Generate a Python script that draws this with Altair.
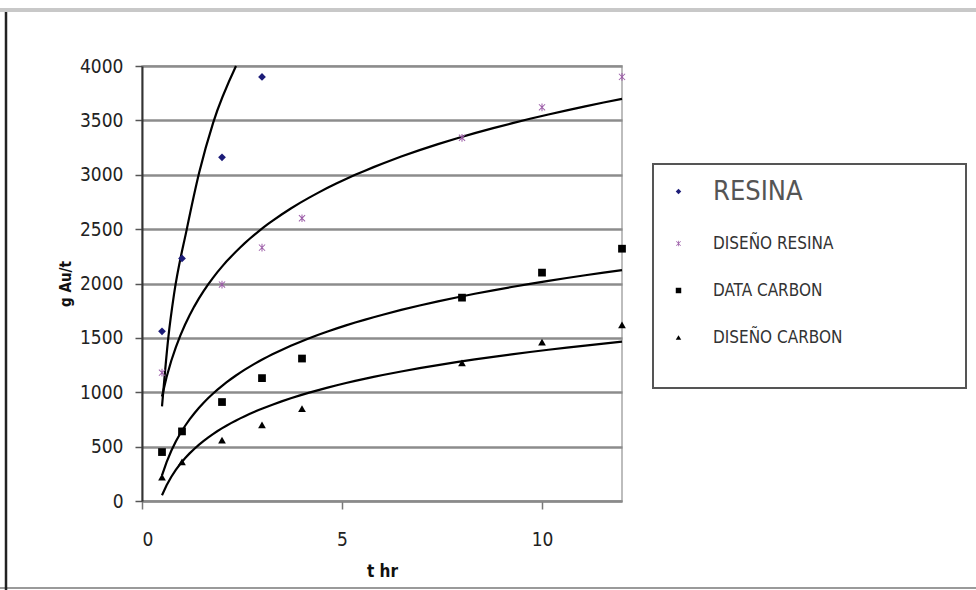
import altair as alt
import pandas as pd

# ---- data ----
series_names = ["RESINA", "DISEÑO RESINA", "DATA CARBON", "DISEÑO CARBON"]

t_resina = [0.5, 1, 2, 3]
v_resina = [1560, 2230, 3160, 3900]

t_diseno_resina = [0.5, 2, 3, 4, 8, 10, 12]
v_diseno_resina = [1180, 1990, 2330, 2600, 3340, 3620, 3900]

t_carbon = [0.5, 1, 2, 3, 4, 8, 10, 12]
v_data_carbon = [450, 640, 910, 1130, 1310, 1870, 2100, 2320]
v_diseno_carbon = [220, 360, 560, 700, 850, 1270, 1460, 1620]

# trend line of RESINA
t_resina_trend = [0.5, 0.66, 0.8, 1.12, 1.43, 1.78, 2.35]
v_resina_trend = [870, 1510, 1900, 2500, 3020, 3480, 4000]

x_ticks = [0, 5, 10]
y_ticks = [0, 500, 1000, 1500, 2000, 2500, 3000, 3500, 4000]

colors = ["#1c1c78", "#9a5aa6", "#000000", "#000000"]
asterisk = ("M-0.13,-1H0.13V1H-0.13Z "
            "M-0.715,-0.885L0.885,0.715L0.715,0.885L-0.885,-0.715Z "
            "M-0.885,0.715L0.715,-0.885L0.885,-0.715L-0.715,0.885Z")
shapes = ["diamond", asterisk, "square", "triangle-up"]

rows = []
for t, v in zip(t_resina, v_resina):
    rows.append({"t": t, "v": v, "series": series_names[0]})
for t, v in zip(t_diseno_resina, v_diseno_resina):
    rows.append({"t": t, "v": v, "series": series_names[1]})
for t, v in zip(t_carbon, v_data_carbon):
    rows.append({"t": t, "v": v, "series": series_names[2]})
for t, v in zip(t_carbon, v_diseno_carbon):
    rows.append({"t": t, "v": v, "series": series_names[3]})
df = pd.DataFrame(rows)

trend_df = pd.DataFrame({"t": t_resina_trend, "v": v_resina_trend})

FONT = "DejaVu Sans Condensed, Liberation Sans Narrow, sans-serif"

x_enc = alt.X("t:Q", scale=alt.Scale(domain=[0, 12], nice=False),
              axis=alt.Axis(values=x_ticks, title="t hr", grid=False, format="d",
                            tickSize=8, labelPadding=21, labelFontSize=19,
                            titleFontSize=17, titlePadding=14,
                            domainColor="#8a8a8a", domainWidth=2,
                            tickColor="#777777", tickWidth=1.5))
y_enc = alt.Y("v:Q", scale=alt.Scale(domain=[0, 4000], nice=False),
              axis=alt.Axis(values=y_ticks, title="g Au/t", grid=True, format="d",
                            gridColor="#8c8c8c", gridWidth=2.5,
                            tickSize=7, labelPadding=12, labelFontSize=19,
                            titleFontSize=15, titlePadding=6,
                            domainColor="#333333", domainWidth=2,
                            tickColor="#555555", tickWidth=1.5))

points = alt.Chart(df).mark_point(filled=True, opacity=1, size=60).encode(
    x=x_enc,
    y=y_enc,
    color=alt.Color("series:N",
                    scale=alt.Scale(domain=series_names, range=colors),
                    sort=series_names,
                    legend=alt.Legend(
                        title=None, orient="none", legendX=528, legendY=117,
                        symbolSize=30, rowPadding=29, labelOffset=26,
                        labelFont=FONT,
                        labelFontSize=alt.ExprRef("datum.label == 'RESINA' ? 27 : 17"),
                        labelColor=alt.ExprRef("datum.label == 'RESINA' ? '#555555' : '#333333'"),
                        padding=0)),
    shape=alt.Shape("series:N",
                    scale=alt.Scale(domain=series_names, range=shapes),
                    sort=series_names),
)

fits = alt.Chart(df).transform_filter(
    alt.datum.series != series_names[0]
).transform_regression(
    "t", "v", method="log", groupby=["series"]
).mark_line(color="black", strokeWidth=2.2).encode(
    x="t:Q", y="v:Q", detail="series:N"
)

resina_fit = alt.Chart(trend_df).mark_line(
    color="black", strokeWidth=2.2, interpolate="monotone"
).encode(x="t:Q", y="v:Q")

one = alt.Data(values=[{"k": 1}])
legend_box = alt.Chart(one).mark_rect(
    fill="white", stroke="#555555", strokeWidth=2
).encode(x=alt.value(511), x2=alt.value(824), y=alt.value(98), y2=alt.value(322))

top_line = alt.Chart(one).mark_rule(color="#c8c8c8", strokeWidth=4).encode(
    x=alt.value(-142), x2=alt.value(834), y=alt.value(-56))
bottom_line = alt.Chart(one).mark_rule(color="#9a9a9a", strokeWidth=2).encode(
    x=alt.value(-142), x2=alt.value(834), y=alt.value(522))
left_line = alt.Chart(one).mark_rule(color="#222222", strokeWidth=2.5).encode(
    x=alt.value(-136), y=alt.value(-54), y2=alt.value(524))

chart = alt.layer(
    top_line, bottom_line, left_line, legend_box, fits, resina_fit, points
).properties(
    width=480, height=435,
    autosize=alt.AutoSizeParams(type="none"),
    padding={"left": 142, "top": 66, "right": 354, "bottom": 89},
    background="white",
).configure_view(
    stroke="#a8a8a8", strokeWidth=1.5
).configure_axis(
    labelFont=FONT, titleFont=FONT, labelColor="#222222", titleColor="#111111",
    titleFontWeight="bold"
).configure_legend(
    labelFont=FONT
)

chart.save("out.html", embed_options={"renderer": "svg", "actions": False})
